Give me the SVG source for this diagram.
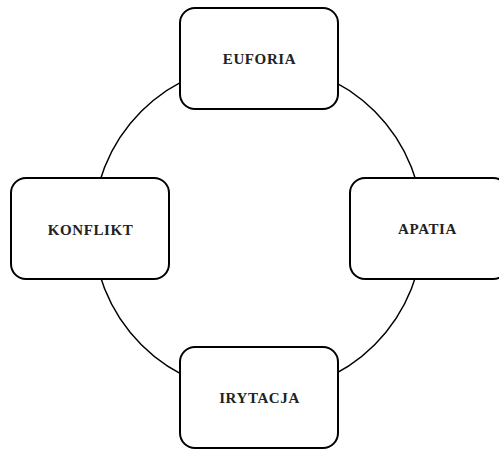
<svg xmlns="http://www.w3.org/2000/svg" width="499" height="450" viewBox="0 0 499 450">
<style>
.box{fill:#fff;stroke:#000;stroke-width:2}
.lbl{font-family:"Liberation Serif","Times New Roman",serif;font-weight:bold;font-size:15px;letter-spacing:0.6px;fill:#222;text-anchor:middle}
.conn{fill:none;stroke:#000;stroke-width:1.5}
</style>
<rect width="499" height="450" fill="#fff"/>
<g id="connectors">
<circle class="conn" cx="258" cy="228" r="165"/>
</g>
<g id="euforia">
<rect class="box" x="180" y="8" width="158" height="101" rx="15"/>
<text class="lbl" x="259.5" y="64">EUFORIA</text>
</g>
<g id="apatia">
<rect class="box" x="350" y="178" width="158" height="101" rx="15"/>
<text class="lbl" x="427.5" y="234">APATIA</text>
</g>
<g id="irytacja">
<rect class="box" x="180" y="347" width="158" height="101" rx="15"/>
<text class="lbl" x="259.5" y="403">IRYTACJA</text>
</g>
<g id="konflikt">
<rect class="box" x="11" y="178" width="158" height="101" rx="15"/>
<text class="lbl" x="90.5" y="235">KONFLIKT</text>
</g>
</svg>
